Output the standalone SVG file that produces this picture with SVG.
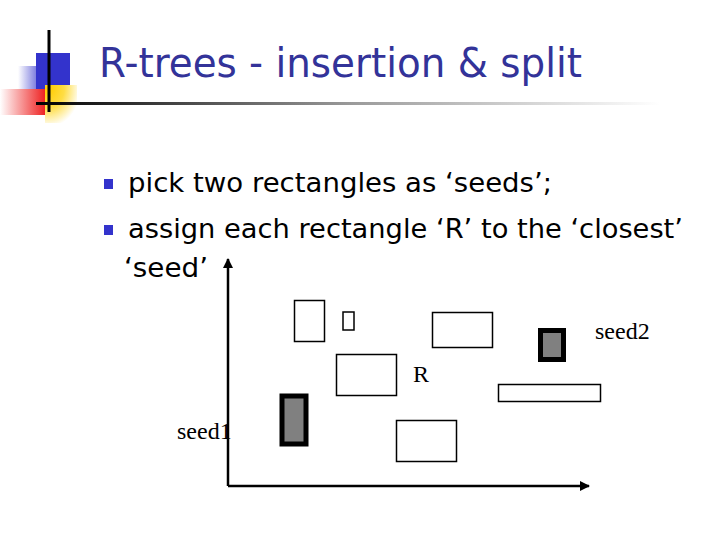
<svg xmlns="http://www.w3.org/2000/svg" width="720" height="540" viewBox="0 0 720 540">
<defs>
<linearGradient id="gLine" x1="0" y1="0" x2="1" y2="0">
<stop offset="0" stop-color="#000"/>
<stop offset="0.5" stop-color="#999"/>
<stop offset="1" stop-color="#fff"/>
</linearGradient>
<linearGradient id="gBlue" x1="0" y1="0" x2="1" y2="0">
<stop offset="0" stop-color="#fff"/>
<stop offset="1" stop-color="#3333cc"/>
</linearGradient>
<linearGradient id="gRed" x1="0" y1="0" x2="1" y2="0">
<stop offset="0" stop-color="#fff"/>
<stop offset="1" stop-color="#ee2222"/>
</linearGradient>
<radialGradient id="gYel" cx="0.1" cy="0.1" r="1">
<stop offset="0" stop-color="#ffcc00"/>
<stop offset="0.5" stop-color="#ffdd44"/>
<stop offset="1" stop-color="#fff"/>
</radialGradient>
<marker id="arr" viewBox="0 0 10 10" refX="9" refY="5" markerWidth="4" markerHeight="4" orient="auto">
<path d="M0,0 L10,5 L0,10 z" fill="#000"/>
</marker>
<style>
.title{font-family:"DejaVu Sans","Liberation Sans",sans-serif;font-size:40px;fill:#333399}
.body{font-family:"DejaVu Sans","Liberation Sans",sans-serif;font-size:26px;fill:#000}
.lbl{font-family:"Liberation Serif","Times New Roman",serif;font-size:24px;fill:#000}
.box{fill:#fff;stroke:#000;stroke-width:1.5}
.seed{fill:#808080;stroke:#000;stroke-width:5}
.bullet{fill:#3333cc}
</style>
</defs>
<g id="logo">
<rect x="18" y="66" width="29" height="24" fill="url(#gBlue)"/>
<rect x="36" y="53" width="34" height="39" fill="#3333cc"/>
<rect x="0" y="89" width="45" height="26" fill="url(#gRed)"/>
<rect x="45" y="85" width="32" height="38" fill="url(#gYel)"/>
<line x1="49" y1="30" x2="49" y2="112" stroke="#000" stroke-width="3"/>
</g>
<rect x="36" y="102" width="624" height="3" fill="url(#gLine)"/>
<text class="title" x="99" y="77" textLength="483" lengthAdjust="spacingAndGlyphs">R-trees - insertion &amp; split</text>
<g id="bullets">
<rect class="bullet" x="104" y="179" width="9" height="10"/>
<rect class="bullet" x="104" y="225" width="9" height="10"/>
<text class="body" x="128" y="192" textLength="424" lengthAdjust="spacingAndGlyphs">pick two rectangles as ‘seeds’;</text>
<text class="body" x="128" y="238" textLength="555" lengthAdjust="spacingAndGlyphs">assign each rectangle ‘R’ to the ‘closest’</text>
<text class="body" x="124" y="277" textLength="84" lengthAdjust="spacingAndGlyphs">‘seed’</text>
</g>
<g id="connectors">
<line x1="228" y1="486" x2="228" y2="259" stroke="#000" stroke-width="2.5" marker-end="url(#arr)"/>
<line x1="228" y1="486" x2="589" y2="486" stroke="#000" stroke-width="2.5" marker-end="url(#arr)"/>
</g>
<g id="rect1"><rect class="box" x="294.5" y="300.5" width="30" height="41"/></g>
<g id="rect2"><rect class="box" x="343" y="312" width="11" height="18"/></g>
<g id="rect3"><rect class="box" x="432.5" y="312.5" width="60" height="35"/></g>
<g id="rectR"><rect class="box" x="336.5" y="354.5" width="60" height="41"/><text class="lbl" x="413" y="382">R</text></g>
<g id="rect5"><rect class="box" x="498.5" y="384.5" width="102" height="17"/></g>
<g id="rect6"><rect class="box" x="396.5" y="420.5" width="60" height="41"/></g>
<g id="seed2"><rect class="seed" x="540.5" y="330.5" width="23" height="29"/><text class="lbl" x="595" y="339">seed2</text></g>
<g id="seed1"><rect class="seed" x="282" y="396" width="24" height="48" stroke-width="4"/><text class="lbl" x="177" y="439">seed1</text></g>
</svg>
